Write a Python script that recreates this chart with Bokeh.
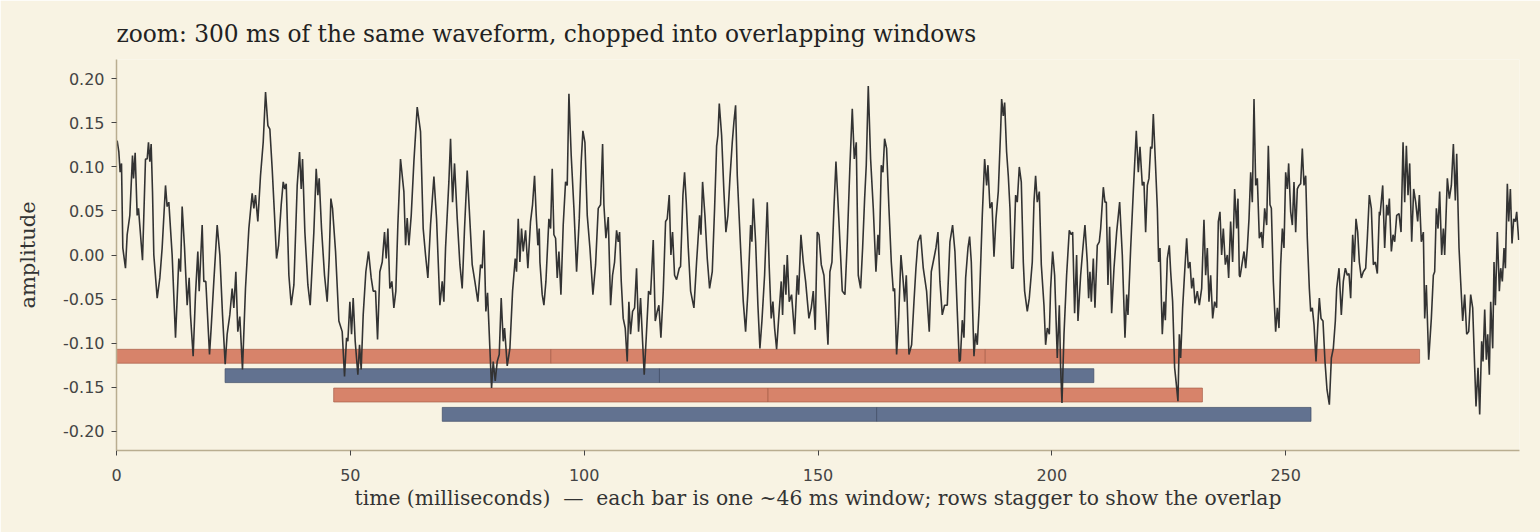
from bokeh.plotting import figure
from bokeh.models import FixedTicker, NumeralTickFormatter, Range1d, ColumnDataSource
from bokeh.embed import file_html
from bokeh.resources import INLINE

# ---- waveform readings (time ms, amplitude), in segments ----
seg1 = [(0.14,0.130),(0.5,0.117),(0.78,0.094),(1.07,0.104),(1.35,0.008),(1.92,-0.015),(2.28,0.023),(2.85,0.045),
        (3.42,0.113),(3.64,0.087),(3.99,0.116),(4.42,0.045),(4.70,0.053),(5.56,-0.006),(6.20,0.109),(6.56,0.109),
        (6.84,0.128),(7.13,0.106),(7.41,0.126),(7.70,0.072),(7.98,0.0),(8.70,-0.049),(9.27,-0.026),(9.76,0.008),
        (10.48,0.079),(10.83,0.055),(11.19,0.060),(11.90,0.0),(12.62,-0.094),(13.33,-0.004),(13.69,-0.019),(14.04,0.055),
        (14.54,0.009),(15.11,-0.057),(15.54,-0.026),(15.82,-0.068),(16.39,-0.115),(16.89,-0.045),(17.39,0.004),(17.68,-0.041),
        (18.32,0.034),(18.67,-0.030),(19.10,-0.030),(19.89,-0.113),(20.24,-0.083),(20.81,-0.030),(21.53,0.034),(22.10,0.0),
        (22.67,-0.068),(23.24,-0.124),(23.66,-0.090),(24.23,-0.068),(24.73,-0.038),(25.09,-0.060),(25.52,-0.019),(25.94,-0.087),
        (26.37,-0.070),(26.94,-0.130),(27.58,-0.038),(28.30,0.030),(29.01,0.070),(29.37,0.053),(29.72,0.068),(30.22,0.038),
        (30.79,0.090)]
seg2 = [(31.37,0.128),(31.87,0.185),(32.37,0.147),(32.79,0.143),(33.29,0.098),(33.79,0.045),(34.22,-0.004),(34.65,0.011),
        (35.22,0.057),(35.65,0.083),(36.0,0.075),(36.29,0.081),(36.86,-0.023),(37.36,-0.057),(37.93,-0.034),(38.64,0.079),
        (39.14,0.117),(39.5,0.075),(39.78,0.109),(40.28,0.026),(40.92,-0.034),(41.42,-0.057),(42.2,0.026),(42.7,0.098),
        (43.06,0.068),(43.34,0.087),(43.84,0.030),(44.48,-0.023),(45.05,-0.053),(45.48,-0.004),(45.84,0.064),(46.19,0.053),
        (46.84,0.004),(47.55,-0.075),(48.26,-0.087),(48.76,-0.138),(49.19,-0.094),(49.47,-0.098),(49.9,-0.053),(50.26,-0.090),
        (50.61,-0.049),(51.04,-0.098),(51.61,-0.136),(51.97,-0.102),(52.32,-0.130),(52.75,-0.068),(53.32,-0.019),(53.89,0.004),
        (54.46,-0.026),(54.89,-0.041),(55.39,-0.041),(55.82,-0.096),(56.31,-0.019),(56.82,-0.008),(57.31,0.026),(57.67,-0.004),
        (58.03,0.030),(58.45,-0.038),(58.88,-0.030),(59.31,-0.060),(59.73,-0.041),(60.16,0.034),(60.73,0.109)]
seg3 = [(61.45,0.072),(61.81,0.011),(62.16,0.042),(62.52,0.011),(63.02,0.045),(63.59,0.106),(64.3,0.168),(65.01,0.140),
        (65.58,0.030),(66.08,0.0),(66.58,-0.026),(67.15,0.034),(67.87,0.089),(68.44,0.041),(69.15,-0.057),(69.65,-0.030),
        (70.0,-0.053),(70.36,0.008),(71.07,0.083),(71.43,0.132),(71.86,0.060),(72.28,0.104),(72.86,0.041),(73.43,-0.011),
        (73.92,-0.038),(74.42,0.030),(74.99,0.096),(75.42,0.053),(76.06,-0.011),(76.63,-0.030),(77.27,-0.053),(77.84,-0.011),
        (78.2,-0.015),(78.56,0.028),(78.98,-0.064),(79.34,-0.043),(79.84,-0.106),(80.2,-0.151),(80.55,-0.121),(80.98,-0.143),
        (81.41,-0.121),(81.84,-0.113),(82.26,-0.049),(82.69,-0.098),(82.98,-0.083),(83.55,-0.126),(84.12,-0.106),(84.69,-0.041),
        (85.26,-0.004),(85.54,-0.019),(85.9,0.041),(86.25,-0.008),(86.61,0.030),(86.97,0.004),(87.47,0.028),(87.96,-0.015),
        (88.53,0.038),(88.96,0.057),(89.39,0.090),(89.75,0.045),(90.1,0.011),(90.39,0.030)]
seg4 = [(90.54,-0.008),(91.03,-0.045),(91.39,-0.057),(91.82,-0.030),(92.46,0.041),(92.82,0.030),(93.17,0.098),(93.53,0.023),
        (93.89,0.019),(94.24,-0.026),(94.6,0.004),(95.03,-0.045),(95.52,0.034),(96.02,0.083),(96.38,0.079),(96.74,0.183),
        (97.23,0.113),(97.81,0.053),(98.38,-0.019),(98.95,0.041),(99.37,0.106),(99.73,0.141),(100.16,0.128),(100.66,0.045),
        (101.23,0.008),(101.87,-0.045),(102.44,-0.011),(103.01,0.053),(103.51,0.057),(103.94,0.126),(104.22,0.057),(104.65,0.019),
        (105.15,0.043),(105.65,-0.057),(106.07,-0.023),(106.5,-0.008),(106.93,0.028),(107.29,0.015),(107.57,0.026),(107.93,-0.030),
        (108.35,-0.072),(108.78,-0.083),(109.21,-0.121),(109.56,-0.053),(109.92,-0.090),(110.35,-0.064),(110.78,-0.060),(111.2,-0.015),
        (111.63,-0.087),(112.06,-0.049),(112.49,-0.098),(112.84,-0.136),(113.27,-0.094),(113.77,-0.041),(114.2,-0.045),(114.77,0.017),
        (115.2,-0.075),(115.62,-0.064),(115.98,-0.057),(116.41,-0.094),(116.91,-0.041),(117.41,0.038),(117.76,0.041),(118.19,0.068),
        (118.55,0.0),(118.9,0.026),(119.33,-0.023),(119.76,-0.028),(120.33,-0.015),(120.61,-0.013)]
seg5 = [(121.12,0.068),(121.47,0.094),(121.83,0.060),(122.26,0.008),(122.76,-0.041),(123.47,-0.060),(124.04,-0.008),(124.68,0.045),
        (124.97,0.023),(125.32,0.083),(125.82,0.045),(126.32,-0.004),(126.82,-0.038),(127.39,-0.019),(127.89,0.053),(128.32,0.124),
        (128.6,0.136),(128.89,0.172),(129.39,0.136),(129.88,0.072),(130.31,0.026),(130.74,0.045),(131.17,0.087),(131.67,0.128),
        (132.02,0.151),(132.38,0.170),(132.74,0.090),(133.45,0.008),(134.02,-0.053),(134.52,-0.087),(135.02,-0.041),(135.59,0.034),
        (135.87,0.015),(136.16,0.064),(136.66,0.015),(137.15,-0.057),(137.58,-0.106),(138.01,-0.075),(138.58,-0.023),(139.15,0.060),
        (139.58,-0.015),(140.0,-0.072),(140.36,-0.053),(140.72,-0.083),(141.15,-0.107),(141.64,-0.068),(142.14,-0.030),(142.43,-0.068),
        (142.78,-0.011),(143.14,-0.045),(143.43,0.0),(143.85,-0.053),(144.35,-0.045),(144.99,-0.090),(145.56,-0.023),(145.85,-0.045),
        (146.35,0.023),(146.85,-0.008),(147.35,-0.030),(148.06,-0.072),(148.56,-0.060),(148.99,-0.041),(149.41,-0.085),(149.84,0.026)]
seg6 = [(150.2,0.023),(150.7,-0.011),(151.27,-0.023),(151.7,-0.060),(152.13,-0.102),(152.55,-0.019),(152.98,-0.008),(153.41,0.053),
        (153.84,0.106),(154.48,0.038),(155.19,-0.041),(155.76,-0.045),(156.26,0.015),(156.83,0.102),(157.33,0.166),(157.76,0.109),
        (158.18,0.128),(158.61,-0.023),(159.11,-0.038),(159.54,0.008),(159.97,0.064),(160.32,0.102),(160.75,0.192),(161.25,0.109),
        (161.82,0.053),(162.39,-0.019),(162.82,0.023),(163.1,0.0),(163.53,0.102),(163.89,0.094),(164.24,0.132),(164.67,0.121),
        (165.17,0.053),(165.67,-0.008),(166.1,-0.041),(166.38,-0.038),(166.81,-0.113),(167.24,-0.072),(167.74,0.0),(168.16,-0.026),
        (168.52,-0.053),(168.88,-0.023),(169.45,-0.113),(170.02,-0.102),(170.52,-0.053),(170.94,-0.015),(171.37,0.015),(171.94,0.023),
        (172.51,-0.015),(173.22,-0.041),(173.79,-0.087),(174.22,-0.019),(174.93,0.0),(175.22,0.008),(175.65,0.026),(176.07,-0.030),
        (176.57,-0.068),(177.07,-0.057),(177.64,-0.057),(178.21,0.015),(178.78,0.034),(179.28,0.004),(179.78,-0.064),(180.21,-0.121)]
seg7 = [(180.43,-0.119),(180.85,-0.074),(181.21,-0.094),(181.57,-0.026),(182.07,0.008),(182.42,0.021),(182.78,-0.008),(183.35,-0.115),
        (183.71,-0.089),(184.06,-0.102),(184.49,-0.057),(185.13,0.045),(185.63,0.109),(186.06,0.079),(186.34,0.102),(186.77,0.053),
        (187.2,0.060),(187.63,-0.002),(188.05,0.041),(188.55,0.072),(189.05,0.141),(189.27,0.177),(189.62,0.158),(189.91,0.173),
        (190.33,0.117),(190.69,0.090),(191.05,0.053),(191.4,-0.015),(191.76,-0.015),(192.26,0.068),(192.61,0.060),(193.04,0.100),
        (193.47,0.083),(193.9,-0.008),(194.18,-0.041),(194.75,-0.064),(195.18,-0.049),(195.82,-0.008),(196.18,0.060),(196.53,0.090),
        (196.89,0.060),(197.32,0.072),(197.75,-0.011),(198.32,-0.057),(198.67,-0.102),(199.03,-0.083),(199.46,-0.090),(199.74,-0.038),
        (200.17,0.004),(200.6,-0.023),(201.17,-0.117),(201.6,-0.057),(201.88,-0.128),(202.17,-0.168),(202.6,-0.090),(203.16,-0.023),
        (203.73,0.028),(204.16,0.023),(204.45,0.026),(204.87,-0.066),(205.3,0.0),(205.59,-0.075),(206.16,-0.023),(206.58,0.004),
        (207.08,0.034),(207.58,-0.008),(207.87,-0.049),(208.15,-0.019),(208.44,-0.053),(208.87,-0.004),(209.22,-0.060),(209.72,0.011),
        (210.15,0.015)]
seg8 = [(210.44,0.030),(211.01,0.077),(211.36,0.060),(211.65,0.060),(212.0,-0.034),(212.36,0.032),(212.79,-0.066),(213.29,-0.015),
        (213.86,0.026),(214.22,0.045),(214.5,0.060),(215.07,0.0),(215.64,-0.094),(216.0,-0.045),(216.28,-0.068),(216.86,0.008),
        (217.42,0.072),(218.06,0.141),(218.49,0.094),(218.85,0.123),(219.35,0.079),(219.7,0.083),(220.06,0.026),(220.42,0.079),
        (220.77,0.087),(221.13,0.123),(221.41,0.121),(221.7,0.160),(222.13,0.107),(222.56,0.053),(222.84,-0.008),(223.13,0.008),
        (223.62,-0.090),(223.98,-0.053),(224.27,-0.074),(224.69,-0.004),(225.12,0.011),(225.41,-0.019),(225.83,-0.053),(226.26,-0.128),
        (226.55,-0.143),(226.97,-0.166),(227.26,-0.090),(227.54,-0.117),(227.97,-0.060),(228.33,-0.026),(228.83,0.019),(229.18,-0.015),
        (229.54,-0.008),(229.9,-0.038),(230.25,-0.026),(230.61,-0.055),(231.11,-0.041),(231.54,-0.057),(232.04,-0.038),(232.53,0.040),
        (232.89,-0.023),(233.25,0.008),(233.6,-0.053),(233.96,-0.023),(234.39,-0.072),(234.81,-0.053),(235.24,-0.060),(235.6,0.038),
        (235.95,0.049),(236.31,0.0),(236.67,0.030),(237.1,-0.011),(237.52,0.0),(237.81,-0.026),(238.23,0.038),(238.66,-0.008),
        (239.09,0.075),(239.52,0.030),(239.8,0.064),(240.09,-0.023)]
seg9 = [(240.24,-0.025),(240.73,-0.008),(241.09,0.004),(241.45,-0.015),(241.8,0.008),(242.16,0.041),(242.52,0.094),(242.87,0.060),
        (243.23,0.177),(243.59,0.079),(243.94,0.087),(244.37,0.019),(244.8,0.026),(245.08,0.008),(245.51,0.053),(245.94,0.034),
        (246.29,0.124),(246.65,0.057),(246.94,0.053),(247.36,-0.030),(247.86,-0.087),(248.22,-0.060),(248.57,-0.083),(248.93,-0.011),
        (249.29,0.030),(249.64,0.008),(250.0,0.094),(250.36,0.075),(250.64,0.104),(251.07,0.049),(251.43,0.034),(251.78,0.083),
        (252.14,0.026),(252.49,0.075),(252.85,0.079),(253.21,0.081),(253.56,0.121),(253.92,0.079),(254.28,0.090),(254.63,0.019),
        (255.06,-0.038),(255.35,-0.064),(255.7,-0.060),(256.06,-0.079),(256.49,-0.121),(256.84,-0.083),(257.2,-0.049),(257.56,-0.072),
        (257.98,-0.075),(258.41,-0.121),(258.84,-0.153),(259.34,-0.170),(259.77,-0.117),(260.19,-0.106),(260.62,-0.075),(260.91,-0.038),
        (261.41,-0.015),(261.9,-0.068),(262.33,-0.030),(262.76,-0.015),(263.19,-0.023),(263.54,-0.021),(263.9,-0.049),(264.33,0.023),
        (264.68,-0.008),(265.04,0.041),(265.4,0.026),(265.75,-0.008),(266.18,-0.026),(266.61,-0.019),(267.11,-0.015),(267.46,0.019),
        (267.89,0.068),(268.32,0.053),(268.75,-0.011),(269.17,-0.008),(269.6,-0.021),(270.03,0.049)]
seg10 = [(270.18,0.045),(270.75,0.079),(271.17,0.008),(271.6,0.057),(271.89,0.045),(272.17,0.064),(272.6,0.004),(272.96,0.023),
         (273.31,0.015),(273.74,0.045),(274.24,0.047),(274.67,0.026),(275.1,0.128),(275.45,0.060),(275.81,0.124),(276.16,0.068),
         (276.52,0.104),(276.95,0.015),(277.37,0.075),(277.8,0.060),(278.23,0.038),(278.59,0.068),(279.01,0.015),(279.44,0.026),
         (279.73,-0.072),(280.08,-0.034),(280.58,-0.119),(281.15,-0.072),(281.58,-0.023),(281.86,-0.019),(282.22,0.053),(282.58,0.030),
         (282.93,0.072),(283.36,0.0),(283.72,0.030),(284.0,0.0),(284.57,0.087),(285.0,0.064),(285.43,0.079),(285.86,0.126),
         (286.28,0.062),(286.57,0.115),(287.07,0.008),(287.42,-0.030),(287.85,-0.075),(288.28,-0.045),(288.71,-0.090),(289.14,-0.087),
         (289.56,-0.045),(289.99,-0.060),(290.42,-0.128),(290.7,-0.172),(291.13,-0.128),(291.49,-0.181),(291.91,-0.098),(292.2,-0.121),
         (292.56,-0.062),(292.91,-0.119),(293.2,-0.090),(293.55,-0.136),(293.84,-0.053),(294.27,-0.106),(294.55,-0.008),(294.84,-0.057),
         (295.26,0.026),(295.69,-0.041),(295.98,-0.015),(296.33,-0.030),(296.69,0.008),(296.98,-0.015),(297.4,0.081),(297.69,0.038),
         (298.05,0.075),(298.4,0.013),(298.76,0.041),(299.12,0.038),(299.4,0.049),(299.83,0.017)]

# ---- analysis windows ----
window_start_ms = [0.0, 23.22, 46.44, 69.66, 92.88, 116.10, 139.32, 162.54, 185.76]
window_len_ms = 92.88
window_row = [0, 1, 2, 3, 0, 1, 2, 3, 0]
row_level = [-0.115, -0.137, -0.159, -0.181]
row_colors = ["#d7836a", "#627290", "#d7836a", "#627290"]
row_lines = ["#a8604a", "#3e4b66", "#a8604a", "#3e4b66"]

BG = "#f8f3e3"

pairs = seg1 + seg2 + seg3 + seg4 + seg5 + seg6 + seg7 + seg8 + seg9 + seg10
wave_t = [t for t, a in pairs]
wave_a = [a for t, a in pairs]

p = figure(width=1540, height=532, output_backend="svg", toolbar_location=None,
           x_range=Range1d(0, 300), y_range=Range1d(-0.222, 0.222),
           min_border_left=116, min_border_right=21, min_border_top=59, min_border_bottom=82,
           background_fill_color=BG, border_fill_color=BG, outline_line_color=None)

p.title.text = "zoom: 300 ms of the same waveform, chopped into overlapping windows"
p.title.text_font = "DejaVu Serif"
p.title.text_font_size = "23.3px"
p.title.text_font_style = "normal"
p.title.text_color = "#222222"
p.title.align = "left"
p.title.standoff = 25

bars = ColumnDataSource(dict(
    y=[row_level[r] for r in window_row],
    left=window_start_ms,
    right=[s + window_len_ms for s in window_start_ms],
    fill=[row_colors[r] for r in window_row],
    line=[row_lines[r] for r in window_row],
))
p.hbar(y="y", left="left", right="right", height=0.0158, source=bars,
       fill_color="fill", line_color="line", line_width=1, line_alpha=0.7)

p.line(wave_t, wave_a, line_color="#333333", line_width=1.6)

p.grid.visible = False
for ax in (p.xaxis, p.yaxis):
    ax.axis_line_color = "#b9ad90"
    ax.axis_line_width = 1.5
    ax.major_tick_line_color = "#444444"
    ax.major_tick_in = 0
    ax.major_tick_out = 5
    ax.minor_tick_line_color = None
    ax.major_label_text_font = "DejaVu Sans"
    ax.major_label_text_font_size = "16px"
    ax.major_label_text_color = "#444444"
    ax.axis_label_text_font = "DejaVu Serif"
    ax.axis_label_text_font_style = "normal"
    ax.axis_label_text_color = "#333333"

p.xaxis.axis_label_text_font_size = "20.3px"
p.yaxis.axis_label_text_font_size = "21px"
p.xaxis.ticker = FixedTicker(ticks=[0, 50, 100, 150, 200, 250])
p.yaxis.ticker = FixedTicker(ticks=[-0.2, -0.15, -0.1, -0.05, 0.0, 0.05, 0.1, 0.15, 0.2])
p.yaxis.formatter = NumeralTickFormatter(format="0.00")
p.xaxis.axis_label = "time (milliseconds)\u00a0\u00a0\u2014\u00a0\u00a0each bar is one ~46 ms window; rows stagger to show the overlap"
p.yaxis.axis_label = "amplitude"
p.xaxis.major_label_standoff = 13
p.yaxis.major_label_standoff = 7
p.xaxis.axis_label_standoff = 2
p.yaxis.axis_label_standoff = 20

open("out.html", "w").write(file_html(p, INLINE))
